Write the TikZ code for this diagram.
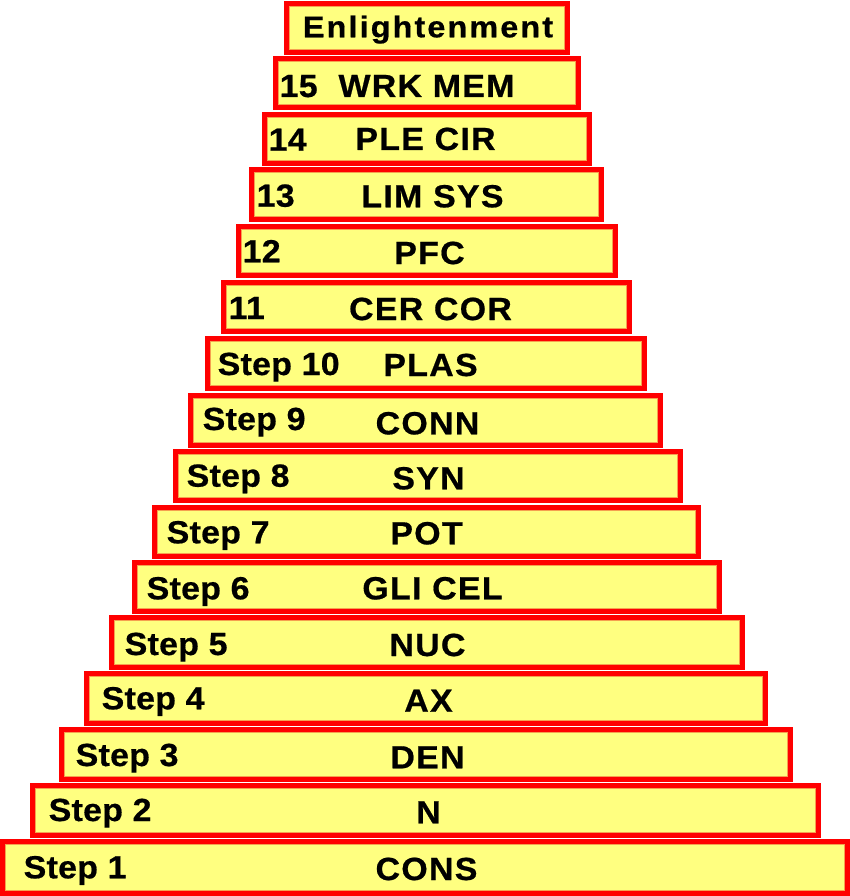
\documentclass[tikz,border=0pt]{standalone}
\usepackage{fontspec}
\setmainfont{Liberation Sans}
\definecolor{boxfill}{HTML}{FFFF80}
\definecolor{boxedge}{HTML}{FF0000}
\definecolor{inneredge}{HTML}{F5A050}
\begin{document}
\begin{tikzpicture}[x=1pt,y=-1pt,
  stepbox/.style={draw=boxedge, line width=5.5pt, fill=boxfill, inner sep=0pt, outer sep=0pt},
  innerline/.style={draw=inneredge, line width=0.8pt},
  midlabel/.style={font=\fontsize{32}{38}\selectfont\bfseries\addfontfeature{LetterSpace=4,FakeStretch=1.06,FakeBold=0.6}, inner sep=0pt, anchor=base},
  toplabel/.style={font=\fontsize{30}{36}\selectfont\bfseries\addfontfeature{LetterSpace=7,FakeStretch=1.08,FakeBold=0.6}, inner sep=0pt, anchor=base},
  sidelabel/.style={font=\fontsize{32}{38}\selectfont\bfseries\addfontfeature{LetterSpace=0.8,FakeStretch=1.06,FakeBold=0.6}, inner sep=0pt, anchor=base west}]
\useasboundingbox (0,0) rectangle (850,896);
% top box
\node[stepbox, minimum width={(570-284-5.5)*1pt}, minimum height={(55-1-5.5)*1pt}] (rE) at ({(284+570)/2},{(1+55)/2}) {};
\draw[innerline] ([shift={(3,3)}]rE.north west) rectangle ([shift={(-3,-3)}]rE.south east);
\node[toplabel] (cE) at (428,37.3) {Enlightenment};
% steps
\foreach \n/\l/\r/\t/\b/\lx/\lb/\cx/\cb/\lt/\ct in {
  15/273/581/56/110/279.5/97/426.5/97/15/WRK MEM,
  14/262/592/112/166/268.5/150.7/425.5/150/14/PLE CIR,
  13/249/604/167/222/256.5/206.7/432.5/207.3/13/LIM SYS,
  12/236/618/224/278/242.5/262.3/429.5/264/12/PFC,
  11/221/632/280/334/228.5/319/430.5/320/11/CER COR,
  10/205/647/336/391/217.5/375/430.5/376/Step 10/PLAS,
  9/188/663/393/448/202.5/430/427.5/434.3/Step 9/CONN,
  8/173/683/449/503/186.5/486.7/428.5/489.3/Step 8/SYN,
  7/152/701/505/559/166.5/543.3/426.5/544.3/Step 7/POT,
  6/132/722/560/614/146.5/599.3/432.5/599.3/Step 6/GLI CEL,
  5/109/745/615/670/124.5/655/427.5/656/Step 5/NUC,
  4/84/768/671/726/101.5/709.3/428.5/711.7/Step 4/AX,
  3/59/793/727/782/75.5/766/427.5/768.3/Step 3/DEN,
  2/30/821/783/838/48.5/821/428.5/823.3/Step 2/N,
  1/0/850/839/896/23.5/878.3/426.5/880/Step 1/CONS}{
  \node[stepbox, minimum width={(\r-\l-5.5)*1pt}, minimum height={(\b-\t-5.5)*1pt}] (r\n) at ({(\l+\r)/2},{(\t+\b)/2}) {};
  \draw[innerline] ([shift={(3,3)}]r\n.north west) rectangle ([shift={(-3,-3)}]r\n.south east);
  \node[sidelabel] (l\n) at (\lx,\lb) {\lt};
  \node[midlabel] (c\n) at (\cx,\cb) {\ct};
}
\end{tikzpicture}
\end{document}
